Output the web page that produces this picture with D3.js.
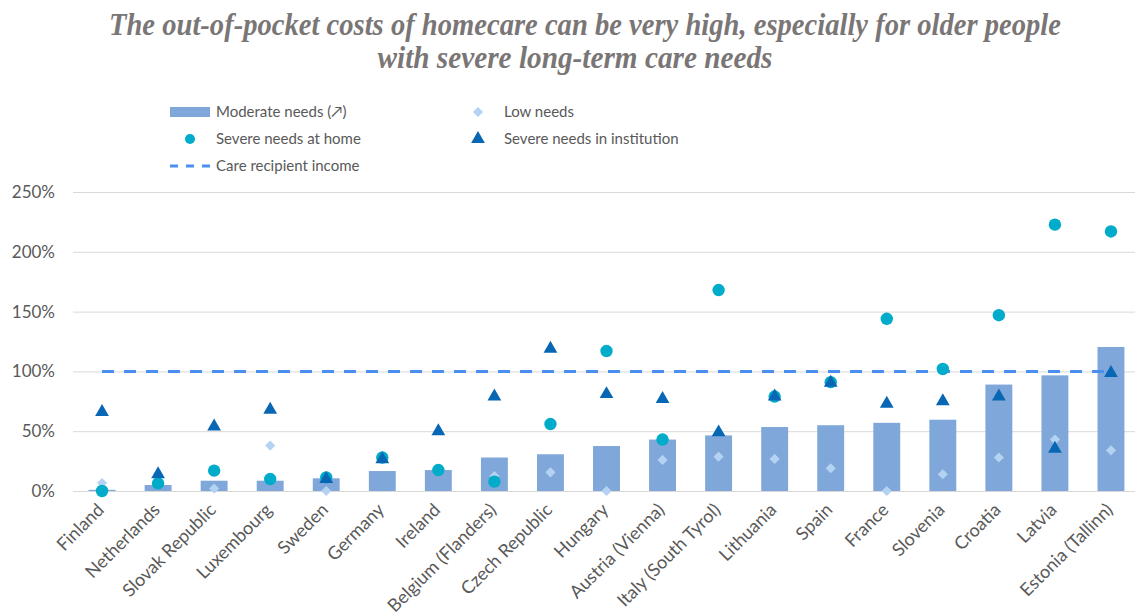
<!DOCTYPE html>
<html><head><meta charset="utf-8">
<script src="https://cdn.jsdelivr.net/npm/d3@7"></script>
<style>body{margin:0;background:#fff}svg{display:block}</style>
</head><body><svg id="c" width="1135" height="615"></svg>
<script>
const categories = ["Finland","Netherlands","Slovak Republic","Luxembourg","Sweden","Germany","Ireland","Belgium (Flanders)","Czech Republic","Hungary","Austria (Vienna)","Italy (South Tyrol)","Lithuania","Spain","France","Slovenia","Croatia","Latvia","Estonia (Tallinn)"];
const moderate = [0.01,0.05,0.086,0.086,0.106,0.167,0.175,0.28,0.307,0.376,0.43,0.465,0.535,0.55,0.57,0.596,0.89,0.967,1.204];
const low = [0.067,0.06,0.02,0.38,0.0,0.27,0.17,0.125,0.156,0.0,0.26,0.287,0.268,0.19,0.0,0.14,0.28,0.43,0.34];
const severeHome = [0.0,0.064,0.17,0.10,0.114,0.28,0.175,0.078,0.56,1.17,0.43,1.68,0.79,0.91,1.44,1.02,1.47,2.227,2.17];
const severeInst = [0.66,0.14,0.54,0.68,0.10,0.265,0.50,0.79,1.19,0.81,0.77,0.49,0.79,0.905,0.73,0.75,0.79,0.354,0.987];
const incomeLine = 1.0;
const yTicks = [0,0.5,1,1.5,2,2.5];
const title = ["The out-of-pocket costs of homecare can be very high, especially for older people","with severe long-term care needs"];

const C = {bar:"#7fa7d9", low:"#b4d2f1", home:"#00acc9", inst:"#0767b4", line:"#4a8ff0", grid:"#d9d9d9", text:"#595959", title:"#7a7676"};
const FONT = "Lato, 'Open Sans', sans-serif";
const svg = d3.select("#c");

const x = d3.scaleBand().domain(categories).range([74,1139]).paddingInner(0.52).paddingOuter(0.26);
const y = d3.scaleLinear().domain([0,2.5]).range([491,192]);
const cx = d => x(d) + x.bandwidth()/2;

// title
svg.append("g").selectAll("text").data(title).join("text")
  .attr("x",(d,i)=>i===0?585:575).attr("y",(d,i)=>35+i*33).attr("text-anchor","middle")
  .attr("font-family","'Liberation Serif', 'Times New Roman', serif")
  .attr("font-style","italic").attr("font-weight","bold").attr("font-size",31)
  .attr("fill",C.title)
  .attr("textLength",(d,i)=>i===0?952:395).attr("lengthAdjust","spacingAndGlyphs")
  .text(d=>d);

// gridlines + y axis
const yAxis = d3.axisLeft(y).tickValues(yTicks).tickFormat(d3.format(".0%")).tickSize(-(1135-73)).tickPadding(18);
const gy = svg.append("g").attr("transform","translate(73,0)").call(yAxis);
gy.select(".domain").remove();
gy.selectAll(".tick line").attr("stroke",C.grid).attr("stroke-width",1);
gy.selectAll(".tick text").attr("fill",C.text).attr("font-family",FONT).attr("font-size",17);

// bars
svg.append("g").selectAll("rect").data(categories).join("rect")
  .attr("x",d=>x(d)).attr("width",x.bandwidth())
  .attr("y",(d,i)=>y(moderate[i])).attr("height",(d,i)=>y(0)-y(moderate[i]))
  .attr("fill",C.bar);

// income line
svg.append("line")
  .attr("x1",cx(categories[0])).attr("x2",cx(categories[categories.length-1]))
  .attr("y1",y(incomeLine)).attr("y2",y(incomeLine))
  .attr("stroke",C.line).attr("stroke-width",3).attr("stroke-dasharray","12,10");

// low diamonds
const diamond = d3.symbol().type(d3.symbolDiamond2).size(66);
svg.append("g").selectAll("path").data(categories).join("path")
  .attr("d",diamond).attr("fill",C.low)
  .attr("transform",(d,i)=>`translate(${cx(d)},${y(low[i])})`);

// severe home circles
svg.append("g").selectAll("circle").data(categories).join("circle")
  .attr("cx",d=>cx(d)).attr("cy",(d,i)=>y(severeHome[i])).attr("r",6.2).attr("fill",C.home);

// severe institution triangles
const tri = d3.symbol().type(d3.symbolTriangle).size(82);
svg.append("g").selectAll("path").data(categories).join("path")
  .attr("d",tri).attr("fill",C.inst)
  .attr("transform",(d,i)=>`translate(${cx(d)},${y(severeInst[i])})`);

// x axis labels
const xAxis = d3.axisBottom(x).tickSize(0).tickPadding(0);
const gx = svg.append("g").attr("transform","translate(0,491)").call(xAxis);
gx.select(".domain").remove();
gx.selectAll(".tick text").attr("fill",C.text).attr("font-family",FONT).attr("font-size",18)
  .attr("text-anchor","end").attr("dy",null).attr("y",0)
  .attr("transform","translate(3,20) rotate(-45)");

// legend
const leg = svg.append("g").attr("font-family",FONT).attr("font-size",15).attr("fill",C.text);
const legItems = [
  {t:"Moderate needs (\u2197)", x:170, y:112, k:"bar"},
  {t:"Low needs", x:458, y:112, k:"low"},
  {t:"Severe needs at home", x:170, y:139, k:"home"},
  {t:"Severe needs in institution", x:458, y:139, k:"inst"},
  {t:"Care recipient income", x:170, y:166, k:"line"}
];
legItems.forEach(it=>{
  const g = leg.append("g").attr("transform",`translate(${it.x},${it.y})`);
  if(it.k==="bar") g.append("rect").attr("x",0).attr("y",-5).attr("width",40).attr("height",10).attr("fill",C.bar);
  if(it.k==="low") g.append("path").attr("d",diamond).attr("transform","translate(20,0)").attr("fill",C.low);
  if(it.k==="home") g.append("circle").attr("cx",20).attr("r",5).attr("fill",C.home);
  if(it.k==="inst") g.append("path").attr("d",tri).attr("transform","translate(20,0)").attr("fill",C.inst);
  if(it.k==="line") g.append("line").attr("x1",0).attr("x2",40).attr("stroke",C.line).attr("stroke-width",3).attr("stroke-dasharray","8,8");
  g.append("text").attr("x",46).attr("dy","0.35em").text(it.t);
});
</script></body></html>
